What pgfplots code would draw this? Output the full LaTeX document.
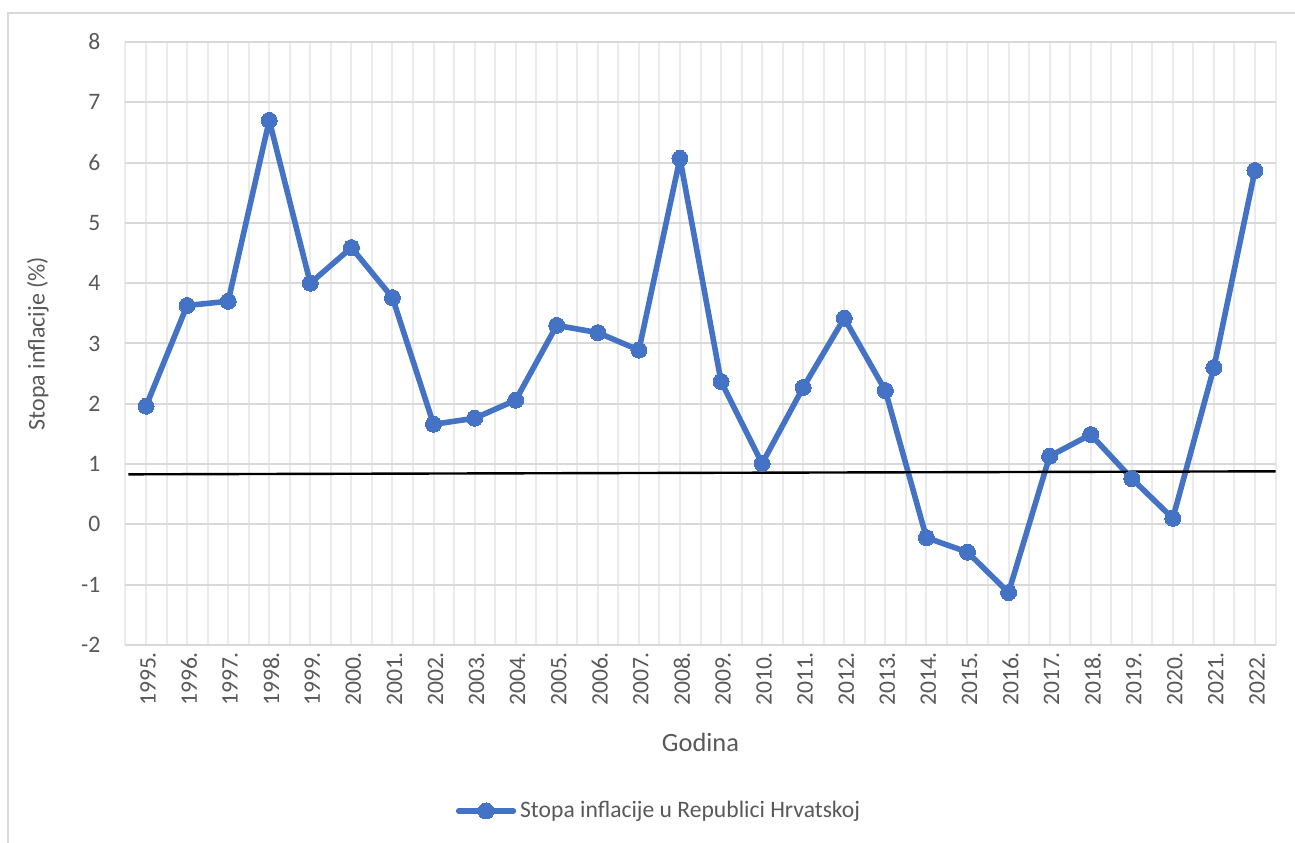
\documentclass[border=0pt]{standalone}
\usepackage{pgfplots}
\pgfplotsset{compat=1.18}
\usepackage{fontspec}
\setmainfont{Carlito}
\definecolor{lineblue}{HTML}{4472C4}
\definecolor{txtgray}{HTML}{595959}
\definecolor{gridH}{HTML}{D9D9D9}
\definecolor{gridV}{HTML}{EBEBEB}
\definecolor{bordergray}{HTML}{D9D9D9}
\pgfplotstableread{
x y
0 1.96
1 3.63
2 3.70
3 6.70
4 4.00
5 4.59
6 3.76
7 1.66
8 1.76
9 2.06
10 3.30
11 3.18
12 2.89
13 6.07
14 2.37
15 1.01
16 2.27
17 3.42
18 2.22
19 -0.22
20 -0.46
21 -1.13
22 1.13
23 1.49
24 0.76
25 0.10
26 2.60
27 5.87
}\datatable
\begin{document}
\begin{tikzpicture}
\begin{axis}[
  name=ax,
  scale only axis,
  width=575pt, height=301.5pt,
  xmin=-0.5, xmax=27.5,
  ymin=-2, ymax=8,
  xtick={0,...,27},
  xticklabels={1995.,1996.,1997.,1998.,1999.,2000.,2001.,2002.,2003.,2004.,2005.,2006.,2007.,2008.,2009.,2010.,2011.,2012.,2013.,2014.,2015.,2016.,2017.,2018.,2019.,2020.,2021.,2022.},
  minor xtick={-0.5,0.5,...,27.5},
  ytick={-2,-1,...,8},
  yticklabels={-2,-1,0,1,2,3,4,5,6,7,8},
  major tick length=0pt, minor tick length=0pt,
  xmajorgrids, xminorgrids, ymajorgrids,
  x grid style={draw=gridV, line width=1pt},
  minor x grid style={draw=gridV, line width=1pt},
  y grid style={draw=gridH, line width=1pt},
  axis line style={draw=none},
  tick label style={font=\fontsize{11.8}{14}\selectfont, text=txtgray},
  xticklabel style={rotate=90, anchor=east, xshift=0pt, yshift=-1pt},
  yticklabel style={anchor=east, xshift=-9pt},
  xlabel={Godina},
  ylabel={Stopa inflacije (\%)},
  xlabel style={font=\fontsize{13.2}{15}\selectfont, text=txtgray, at={(axis description cs:0.5,0)}, anchor=center, yshift=-48.5pt},
  ylabel style={font=\fontsize{12}{14}\selectfont, text=txtgray, at={(axis description cs:-0.0761,0.5)}, anchor=center},
  legend style={at={(0.4648,-0.2753)}, anchor=center, draw=none, font=\fontsize{11.8}{14}\selectfont, text=txtgray, inner sep=0pt},
  legend cell align=left,
  legend image code/.code={\draw[mark repeat=2,mark phase=2] plot coordinates {(0cm,0cm)(0.48cm,0cm)(0.96cm,0cm)};},
  clip=false,
]
\addplot[lineblue, line width=2.8pt, line join=round, line cap=round, mark=*, mark size=4pt, mark options={fill=lineblue, draw=lineblue, line width=0pt}] table[x=x,y=y] {\datatable};
\addlegendentry{Stopa inflacije u Republici Hrvatskoj}
\addplot[black, line width=1.2pt, forget plot] coordinates {(-0.43,0.83) (27.5,0.88)};
\end{axis}
\pgfresetboundingbox
\path[use as bounding box] ([xshift=-62.75pt,yshift=-99pt]ax.south west) rectangle ([xshift=9.75pt,yshift=21pt]ax.north east);
\draw[bordergray, line width=1pt] ([xshift=-58.75pt,yshift=-99pt]ax.south west) -- ([xshift=-58.75pt,yshift=14.5pt]ax.north west) -- ([xshift=9.75pt,yshift=14.5pt]ax.north east);
\end{tikzpicture}
\end{document}
